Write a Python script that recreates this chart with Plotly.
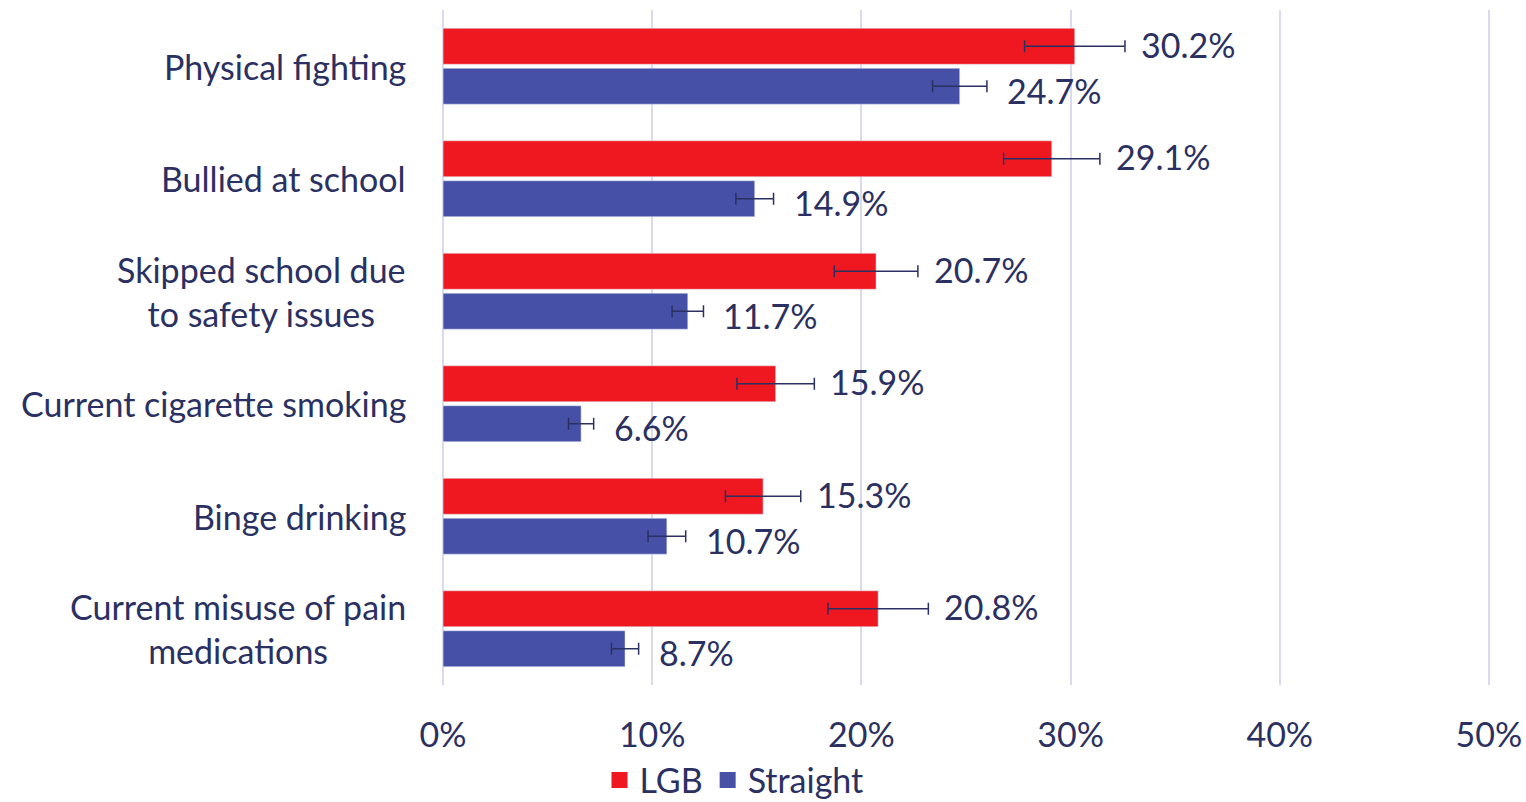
import plotly.graph_objects as go

categories = ["Physical fighting", "Bullied at school", "Skipped school due<br>to safety issues",
              "Current cigarette smoking", "Binge drinking", "Current misuse of pain<br>medications"]
lgb = [30.2, 29.1, 20.7, 15.9, 15.3, 20.8]
lgb_err = [2.4, 2.3, 2.0, 1.85, 1.8, 2.4]
straight = [24.7, 14.9, 11.7, 6.6, 10.7, 8.7]
straight_err = [1.3, 0.9, 0.75, 0.6, 0.9, 0.65]
x_ticks = [0, 10, 20, 30, 40, 50]

TEXT = "#2B3062"
FONT = "Lato"
FS = 34
RED = "#EF1820"
BLUE = "#4650A6"

fig = go.Figure()
fig.add_trace(go.Bar(y=categories, x=lgb, orientation="h", name="LGB", marker_color=RED,
                     error_x=dict(type="data", array=lgb_err, color=TEXT, thickness=1.5, width=6),
                     showlegend=False))
fig.add_trace(go.Bar(y=categories, x=straight, orientation="h", name="Straight", marker_color=BLUE,
                     error_x=dict(type="data", array=straight_err, color=TEXT, thickness=1.5, width=6),
                     showlegend=False))
for name, col in [("LGB", RED), ("Straight", BLUE)]:
    fig.add_trace(go.Scatter(x=[None], y=[None], mode="markers", name=name,
                             marker=dict(symbol="square", size=16, color=col)))

ann = []
for c, v, e in zip(categories, lgb, lgb_err):
    ann.append(dict(x=v + e, y=c, text=f"{v:.1f}%", showarrow=False, xanchor="left", xshift=14,
                    yshift=22, font=dict(size=FS, color=TEXT, family=FONT)))
for c, v, e in zip(categories, straight, straight_err):
    ann.append(dict(x=v + e, y=c, text=f"{v:.1f}%", showarrow=False, xanchor="left", xshift=18,
                    yshift=-24, font=dict(size=FS, color=TEXT, family=FONT)))
for c in categories:
    ann.append(dict(x=0, xref="paper", y=c, text=c, showarrow=False, xanchor="right", xshift=-34,
                    align="center", font=dict(size=FS, color=TEXT, family=FONT)))

fig.update_layout(
    width=1526, height=802,
    margin=dict(l=442, r=36, t=10, b=117, autoexpand=False),
    plot_bgcolor="white", paper_bgcolor="white",
    barmode="group", bargap=0.29, bargroupgap=0.1,
    font=dict(family=FONT, size=FS, color=TEXT),
    annotations=ann,
    legend=dict(orientation="h", xref="container", yref="container", x=0.481, y=0.027,
                xanchor="center", yanchor="middle", font=dict(size=FS, color=TEXT, family=FONT),
                itemwidth=30, tracegroupgap=0),
    xaxis=dict(range=[-0.05, 50.05], tickvals=x_ticks, ticktext=[f"{t}%" for t in x_ticks],
               showgrid=True, gridcolor="#DADAEE", gridwidth=2, zeroline=False,
               showline=False, ticks="", ticklabelstandoff=27, automargin=False,
               ticklabeloverflow="allow",
               tickfont=dict(size=FS, color=TEXT, family=FONT)),
    yaxis=dict(autorange="reversed", showticklabels=False, showgrid=False, zeroline=False,
               showline=False, ticks="", automargin=False),
)
fig.write_html("out.html", config={"displayModeBar": False},
               post_script="document.body.style.margin='0';document.body.style.overflow='hidden';")
